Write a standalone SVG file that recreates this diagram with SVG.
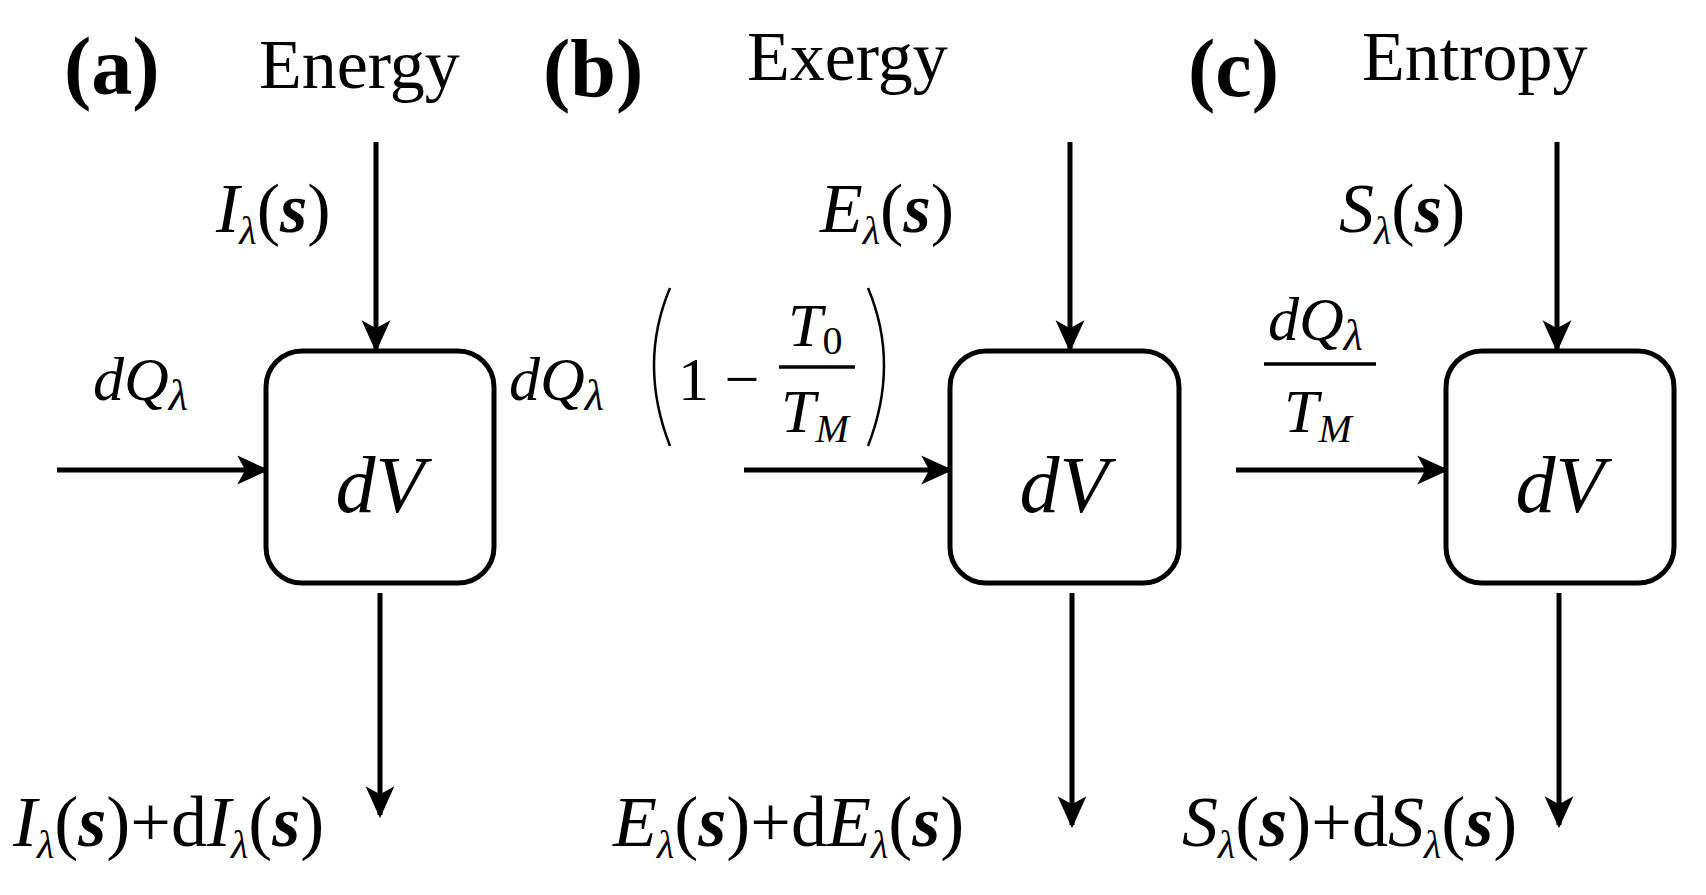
<svg xmlns="http://www.w3.org/2000/svg" width="1706" height="895" viewBox="0 0 1706 895">
<style>
.t{font-family:"Liberation Serif",serif;fill:#000}
.i{font-style:italic}
.b{font-weight:bold}
.box{fill:#fff;stroke:#000;stroke-width:5}
.ln{stroke:#000;stroke-width:5;fill:none}
.br{stroke:#000;stroke-width:2.5;fill:none}
</style>
<defs>
<marker id="ah" viewBox="0 0 20 20" refX="18" refY="10" markerWidth="32" markerHeight="32" markerUnits="userSpaceOnUse" orient="auto">
<path d="M0,1 L20,10 L0,19 L5,10 Z" fill="#000"/>
</marker>
</defs>
<rect width="1706" height="895" fill="#fff"/>
<g id="labels" class="t">
<text x="64" y="94" font-size="82" class="b">(a)</text>
<text x="259" y="88" font-size="70">Energy</text>
<text x="543" y="96" font-size="82" class="b">(b)</text>
<text x="747" y="80" font-size="70">Exergy</text>
<text x="1188" y="96" font-size="82" class="b">(c)</text>
<text x="1362" y="80" font-size="70">Entropy</text>
</g>
<g id="connectors">
<line class="ln" x1="376" y1="142" x2="376" y2="349" marker-end="url(#ah)"/>
<line class="ln" x1="1070" y1="142" x2="1070" y2="349" marker-end="url(#ah)"/>
<line class="ln" x1="1557" y1="142" x2="1557" y2="349" marker-end="url(#ah)"/>
<line class="ln" x1="380" y1="593" x2="380" y2="815" marker-end="url(#ah)"/>
<line class="ln" x1="1072" y1="593" x2="1072" y2="825" marker-end="url(#ah)"/>
<line class="ln" x1="1559" y1="593" x2="1559" y2="825" marker-end="url(#ah)"/>
<line class="ln" x1="57" y1="470" x2="266" y2="470" marker-end="url(#ah)"/>
<line class="ln" x1="744" y1="470" x2="950" y2="470" marker-end="url(#ah)"/>
<line class="ln" x1="1236" y1="470" x2="1446" y2="470" marker-end="url(#ah)"/>
</g>
<g id="nodeA"><rect class="box" x="266" y="351" width="228" height="232" rx="36"/><text class="t i" x="380" y="512" font-size="80" text-anchor="middle">dV</text></g>
<g id="nodeB"><rect class="box" x="950" y="351" width="229" height="232" rx="36"/><text class="t i" x="1064" y="512" font-size="80" text-anchor="middle">dV</text></g>
<g id="nodeC"><rect class="box" x="1446" y="351" width="228" height="232" rx="36"/><text class="t i" x="1560" y="512" font-size="80" text-anchor="middle">dV</text></g>
<g id="flowtext" class="t" font-size="70">
<text x="216" y="232"><tspan class="i">I</tspan><tspan class="i" font-size="40" dy="12">λ</tspan><tspan dy="-12">(</tspan><tspan class="b i">s</tspan>)</text>
<text x="820" y="232"><tspan class="i">E</tspan><tspan class="i" font-size="40" dy="12">λ</tspan><tspan dy="-12">(</tspan><tspan class="b i">s</tspan>)</text>
<text x="1339" y="232"><tspan class="i">S</tspan><tspan class="i" font-size="40" dy="12">λ</tspan><tspan dy="-12">(</tspan><tspan class="b i">s</tspan>)</text>
<text x="93" y="400" class="i" font-size="62">dQ<tspan font-size="44" dy="10">λ</tspan></text>
<text x="509" y="400" class="i" font-size="62">dQ<tspan font-size="44" dy="10">λ</tspan></text>
<path class="br" d="M670,288 Q638,364 670,446"/>
<text x="678" y="400" font-size="62">1 −</text>
<line x1="779" y1="367" x2="855" y2="367" stroke="#000" stroke-width="3.5"/>
<text x="788" y="346" class="i" font-size="62">T<tspan font-style="normal" font-size="40" dy="8">0</tspan></text>
<text x="781" y="432" class="i" font-size="62">T<tspan font-size="40" dy="10">M</tspan></text>
<path class="br" d="M868,288 Q900,364 868,446"/>
<line x1="1264" y1="364" x2="1376" y2="364" stroke="#000" stroke-width="3.5"/>
<text x="1268" y="340" class="i" font-size="62">dQ<tspan font-size="44" dy="10">λ</tspan></text>
<text x="1284" y="432" class="i" font-size="62">T<tspan font-size="40" dy="10">M</tspan></text>
<text x="13" y="846" font-size="72"><tspan class="i">I</tspan><tspan class="i" font-size="40" dy="12">λ</tspan><tspan dy="-12">(</tspan><tspan class="b i">s</tspan>)+d<tspan class="i">I</tspan><tspan class="i" font-size="40" dy="12">λ</tspan><tspan dy="-12">(</tspan><tspan class="b i">s</tspan>)</text>
<text x="613" y="846" font-size="72"><tspan class="i">E</tspan><tspan class="i" font-size="40" dy="12">λ</tspan><tspan dy="-12">(</tspan><tspan class="b i">s</tspan>)+d<tspan class="i">E</tspan><tspan class="i" font-size="40" dy="12">λ</tspan><tspan dy="-12">(</tspan><tspan class="b i">s</tspan>)</text>
<text x="1182" y="846" font-size="72"><tspan class="i">S</tspan><tspan class="i" font-size="40" dy="12">λ</tspan><tspan dy="-12">(</tspan><tspan class="b i">s</tspan>)+d<tspan class="i">S</tspan><tspan class="i" font-size="40" dy="12">λ</tspan><tspan dy="-12">(</tspan><tspan class="b i">s</tspan>)</text>
</g>
</svg>
